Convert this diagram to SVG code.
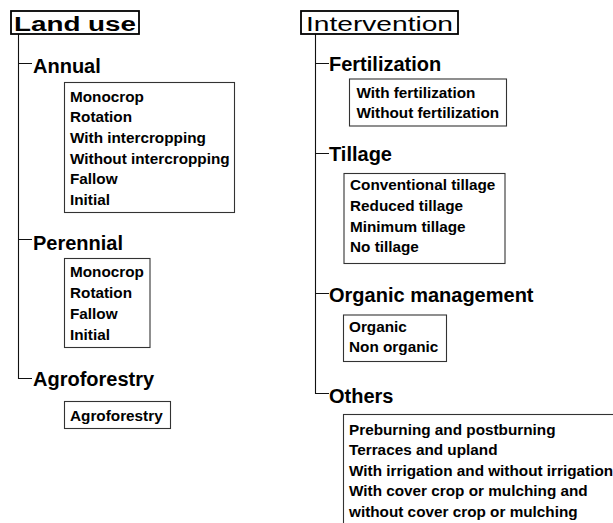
<svg xmlns="http://www.w3.org/2000/svg" width="613" height="523" viewBox="0 0 613 523">
<style>
.hdr{fill:#fff;stroke:#000;stroke-width:1.8}
.box{fill:#fff;stroke:#333;stroke-width:1.1}
.con{fill:none;stroke:#111;stroke-width:1.1}
text{font-family:"Liberation Sans",Arial,sans-serif;fill:#000}
.h1{font-size:20px}
.h2{font-size:20px;font-weight:bold}
.it{font-size:15.3px;font-weight:bold}
</style>
<rect width="613" height="523" fill="#fff"/>
<g id="connectors">
<path class="con" d="M18.5 34 V378.5 H32 M18.5 63.5 H32 M18.5 239.5 H32"/>
<path class="con" d="M315.5 34 V393.5 H329 M315.5 63.5 H329 M315.5 153.5 H329 M315.5 293.5 H329"/>
</g>
<g id="land-use">
<rect class="hdr" x="11" y="11" width="128" height="23"/>
<text class="h1" x="14" y="31" font-weight="bold" textLength="122" lengthAdjust="spacingAndGlyphs">Land use</text>
</g>
<g id="annual">
<text class="h2" x="33" y="73">Annual</text>
<rect class="box" x="64.5" y="82.5" width="170" height="130"/>
<text class="it" x="70" y="101.5">Monocrop</text>
<text class="it" x="70" y="122.2">Rotation</text>
<text class="it" x="70" y="142.9">With intercropping</text>
<text class="it" x="70" y="163.6">Without intercropping</text>
<text class="it" x="70" y="184.3">Fallow</text>
<text class="it" x="70" y="205">Initial</text>
</g>
<g id="perennial">
<text class="h2" x="33" y="250">Perennial</text>
<rect class="box" x="64.5" y="258.5" width="85.5" height="89"/>
<text class="it" x="70" y="277">Monocrop</text>
<text class="it" x="70" y="298">Rotation</text>
<text class="it" x="70" y="319">Fallow</text>
<text class="it" x="70" y="340">Initial</text>
</g>
<g id="agroforestry">
<text class="h2" x="33" y="386">Agroforestry</text>
<rect class="box" x="64.5" y="401.5" width="106" height="27"/>
<text class="it" x="70" y="421">Agroforestry</text>
</g>
<g id="intervention">
<rect class="hdr" x="301" y="11" width="157" height="23"/>
<text class="h1" x="306" y="31" textLength="147" lengthAdjust="spacingAndGlyphs">Intervention</text>
</g>
<g id="fertilization">
<text class="h2" x="329" y="71">Fertilization</text>
<rect class="box" x="349.5" y="79" width="157" height="47"/>
<text class="it" x="356.5" y="98.3">With fertilization</text>
<text class="it" x="356.5" y="118.3">Without fertilization</text>
</g>
<g id="tillage">
<text class="h2" x="329" y="161">Tillage</text>
<rect class="box" x="344" y="173.5" width="161" height="90"/>
<text class="it" x="350" y="190">Conventional tillage</text>
<text class="it" x="350" y="210.7">Reduced tillage</text>
<text class="it" x="350" y="231.5">Minimum tillage</text>
<text class="it" x="350" y="252.3">No tillage</text>
</g>
<g id="organic-management">
<text class="h2" x="329" y="301.5">Organic management</text>
<rect class="box" x="343.5" y="315" width="103" height="46.5"/>
<text class="it" x="349" y="331.7">Organic</text>
<text class="it" x="349" y="351.7">Non organic</text>
</g>
<g id="others">
<text class="h2" x="329" y="402.5">Others</text>
<rect class="box" x="343.5" y="414.5" width="300" height="150"/>
<text class="it" x="349" y="434.5">Preburning and postburning</text>
<text class="it" x="349" y="455">Terraces and upland</text>
<text class="it" x="349" y="475.5">With irrigation and without irrigation</text>
<text class="it" x="349" y="496">With cover crop or mulching and</text>
<text class="it" x="349" y="516.5">without cover crop or mulching</text>
</g>
</svg>
